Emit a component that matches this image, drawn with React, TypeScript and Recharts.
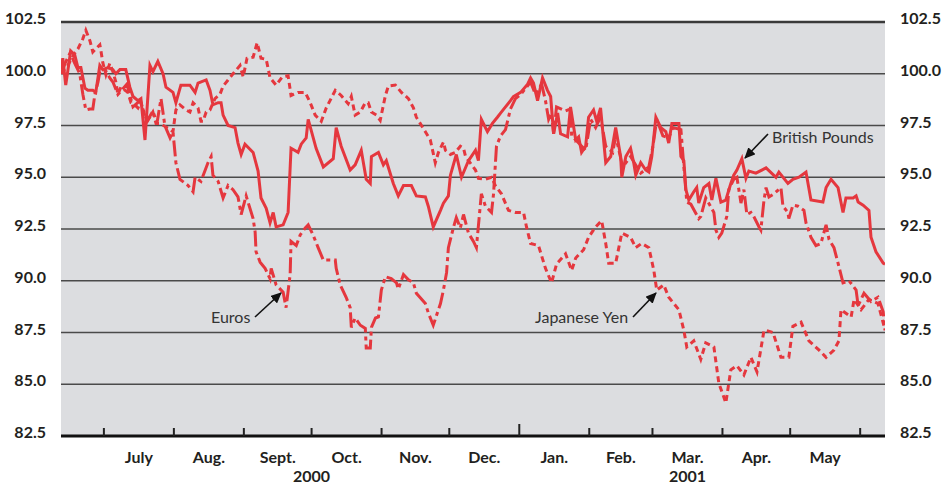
import { LineChart, Line, XAxis, YAxis, CartesianGrid, ReferenceLine } from 'recharts';

// days counted from 12 June 2000; index values (June 2000 = 100)
const monthStarts = [19, 50, 81, 111, 142, 172, 203, 234, 262, 293, 323, 354];
const monthLabels = ['July', 'Aug.', 'Sept.', 'Oct.', 'Nov.', 'Dec.', 'Jan.', 'Feb.', 'Mar.', 'Apr.', 'May', ''];
const yearLabels = [
  { day: 111, label: '2000' },
  { day: 277.5, label: '2001' },
];
const valueTicks = [82.5, 85, 87.5, 90, 92.5, 95, 97.5, 100, 102.5];

const pounds = [
  [0, 100.2], [0.8, 100.75], [2.1, 99.45], [4.3, 101.1], [6.1, 100.9], [7.5, 100.3], [8.8, 100.3],
  [10.6, 99.3], [11.9, 99.2], [14.1, 99.2], [15.4, 99.1], [17.2, 100.4], [18.5, 100.2], [20.8, 100.3],
  [23.0, 100.2], [24.3, 100.0], [26.1, 100.2], [28.7, 100.2], [30.5, 99.35], [31.9, 98.9], [34.1, 98.7],
  [35.4, 98.8], [37.2, 96.8], [39.4, 100.4], [40.7, 100.1], [42.9, 100.6], [45.2, 100.0], [46.5, 99.35],
  [49.6, 99.1], [50.9, 98.6], [53.1, 99.45], [57.1, 99.45], [59.4, 99.1], [60.7, 99.55], [64.3, 99.7],
  [66.0, 99.2], [67.3, 98.5], [69.6, 98.6], [70.9, 98.6], [71.8, 98.0], [74.0, 97.5], [77.1, 97.4],
  [78.4, 96.65], [79.8, 96.1], [81.5, 96.6], [85.1, 96.2], [87.3, 95.3], [88.6, 94.0], [90.9, 93.5],
  [92.6, 92.8], [94.0, 93.3], [95.3, 92.6], [98.4, 92.7], [100.6, 93.3], [101.9, 96.4], [105.0, 96.2],
  [106.4, 96.6], [108.6, 96.9], [109.5, 97.8], [113.0, 96.4], [116.2, 95.5], [120.6, 95.9], [121.9, 97.4],
  [124.1, 96.5], [128.1, 95.35], [130.3, 95.6], [133.0, 96.3], [135.2, 94.9], [137.0, 94.7], [137.5, 96.0],
  [140.6, 96.2], [142.8, 95.6], [144.1, 95.8], [147.2, 94.7], [149.4, 94.1], [151.7, 94.6], [155.2, 94.6],
  [157.4, 94.1], [161.4, 94.05], [162.7, 93.6], [164.9, 92.6], [168.1, 93.4], [169.4, 93.75], [171.6, 94.1],
  [172.5, 95.1], [175.1, 96.1], [177.4, 95.0], [180.5, 95.8], [183.6, 96.3], [184.9, 95.8], [186.2, 97.8],
  [188.9, 97.2], [191.1, 97.6], [193.3, 97.9], [194.7, 98.1], [196.9, 98.4], [199.1, 98.7], [200.4, 98.9],
  [203.6, 99.1], [206.7, 99.5], [208.0, 99.8], [209.3, 99.55], [211.1, 98.7], [213.3, 99.8], [215.5, 99.2],
  [216.9, 98.9], [218.2, 97.1], [220.0, 98.1], [221.3, 97.1], [224.4, 96.95], [225.7, 98.4], [228.0, 96.8],
  [229.3, 96.95], [230.6, 96.2], [232.4, 96.5], [233.7, 97.9], [235.9, 98.25], [237.3, 97.7], [239.0, 98.35],
  [241.3, 95.7], [243.5, 96.0], [245.7, 97.4], [247.9, 96.0], [248.4, 95.0], [250.2, 96.0], [252.3, 96.4],
  [253.7, 95.7], [254.6, 95.1], [256.8, 95.7], [259.0, 95.35], [260.4, 95.25], [261.7, 96.0], [263.5, 97.9],
  [265.7, 97.4], [267.9, 97.2], [269.2, 96.65], [270.6, 97.6], [273.7, 97.6], [274.6, 96.0], [275.9, 95.8],
  [276.8, 94.4], [278.1, 93.9], [280.3, 94.3], [281.6, 94.5], [282.5, 93.75], [284.7, 94.5], [287.0, 94.7],
  [288.3, 93.9], [290.1, 94.95], [292.3, 93.8], [294.5, 93.9], [296.7, 94.7], [298.0, 95.1], [299.4, 95.35],
  [301.6, 95.9], [303.4, 94.95], [304.7, 95.3], [307.8, 95.2], [312.3, 95.45], [316.7, 95.0], [318.0, 95.25],
  [322.0, 94.7], [324.2, 94.9], [326.9, 95.0], [330.0, 95.25], [332.2, 93.9], [337.5, 93.8], [338.9, 94.5],
  [341.1, 94.9], [344.2, 94.5], [346.4, 93.3], [347.7, 94.0], [350.9, 94.0], [352.2, 94.1], [353.1, 93.8],
  [355.3, 93.65], [357.9, 93.4], [358.8, 92.1], [361.0, 91.4], [364.2, 90.85], [365, 90.8],
];

const euros = [
  [0, 100.0], [1.8, 100.5], [4.0, 101.0], [6.1, 100.5], [8.3, 100.0], [9.7, 99.0], [11.0, 98.25],
  [12.8, 98.3], [14.1, 98.3], [15.0, 99.0], [16.4, 99.6], [17.2, 100.1], [19.5, 100.2], [21.6, 99.8],
  [23.0, 99.6], [25.2, 99.0], [29.2, 99.5], [31.9, 98.4], [35.0, 98.7], [38.1, 97.7], [40.7, 98.2],
  [42.5, 97.6], [44.3, 98.8], [46.0, 97.5], [48.3, 96.9], [49.6, 97.2], [50.9, 95.7], [52.7, 94.9],
  [56.3, 94.6], [58.5, 94.3], [59.4, 95.0], [62.0, 94.8], [65.1, 95.7], [66.5, 96.0], [67.3, 95.1],
  [69.6, 94.8], [71.8, 94.0], [74.0, 94.6], [76.2, 94.4], [78.4, 94.05], [79.8, 93.2], [82.0, 94.1],
  [85.1, 93.0], [86.0, 92.35], [86.4, 91.4], [88.2, 90.9], [90.4, 90.6], [92.6, 90.1], [93.1, 90.6],
  [95.3, 89.8], [98.4, 89.45], [99.7, 88.7], [101.5, 90.3], [101.9, 91.9], [104.2, 91.7], [105.9, 92.2],
  [108.2, 92.55], [109.5, 92.7], [111.7, 92.2], [113.9, 91.6], [116.2, 91.0], [121.5, 91.0], [121.9, 90.6],
  [123.7, 89.8], [125.0, 89.5], [126.3, 89.2], [128.1, 88.7], [128.6, 87.75], [130.3, 88.2], [132.6, 87.85],
  [134.8, 87.7], [135.2, 86.75], [137.0, 86.75], [137.5, 87.75], [139.3, 88.2], [140.6, 88.25], [141.9, 89.55],
  [143.7, 90.2], [146.3, 90.1], [148.6, 89.9], [149.4, 89.6], [151.7, 90.3], [153.9, 90.05], [156.1, 89.9],
  [157.4, 89.4], [161.4, 88.9], [162.7, 88.45], [164.9, 87.85], [168.1, 88.9], [169.4, 89.55], [170.8, 90.4],
  [171.6, 91.6], [173.9, 92.6], [175.1, 93.05], [176.9, 92.55], [178.3, 93.2], [180.5, 92.3], [182.7, 91.9],
  [184.0, 91.6], [186.2, 94.2], [188.0, 93.6], [190.7, 93.3], [191.6, 94.2], [192.9, 96.5], [194.7, 97.0],
  [196.9, 97.3], [199.1, 98.3], [201.3, 98.8], [203.6, 99.0], [205.8, 99.3], [208.0, 99.6], [210.2, 99.0],
  [212.9, 99.5], [214.6, 98.7], [216.0, 97.8], [217.3, 98.1], [218.2, 97.1], [219.5, 98.4], [223.5, 98.2],
  [225.7, 98.3], [226.2, 97.0], [228.0, 96.8], [232.4, 96.3], [234.6, 97.8], [236.8, 97.4], [239.0, 97.9],
  [241.3, 96.5], [244.4, 96.2], [245.7, 97.0], [248.8, 95.5], [252.3, 96.0], [256.8, 95.2], [260.4, 95.5],
  [262.2, 96.5], [263.9, 97.8], [266.6, 97.0], [269.2, 96.9], [271.0, 97.4], [274.6, 97.3], [275.9, 95.5],
  [277.2, 93.8], [279.0, 93.7], [282.5, 93.0], [283.4, 93.1], [285.6, 94.0], [289.2, 93.3], [290.1, 92.45],
  [291.4, 92.1], [292.7, 92.3], [294.9, 93.1], [295.8, 94.4], [298.0, 94.9], [299.4, 95.0], [301.2, 93.75],
  [302.5, 94.4], [303.8, 93.2], [305.6, 93.3], [306.9, 93.1], [309.2, 92.6], [310.0, 92.45], [311.4, 93.9],
  [312.3, 94.5], [313.6, 94.05], [315.8, 94.2], [318.9, 94.5], [319.8, 93.6], [322.0, 93.3], [322.4, 93.0],
  [324.2, 93.65], [326.5, 93.6], [329.1, 93.4], [330.0, 92.8], [332.2, 92.1], [334.4, 91.7], [336.6, 91.8],
  [338.9, 92.7], [340.2, 92.0], [342.4, 91.6], [344.2, 90.85], [346.4, 89.9], [349.1, 90.0], [352.2, 89.55],
  [353.1, 88.8], [355.7, 89.4], [358.8, 89.0], [361.9, 89.2], [364.2, 88.5], [365, 87.6],
];

const yen = [
  [0, 100.0], [3.0, 100.4], [6.1, 101.0], [7.5, 101.2], [9.7, 101.7], [11.0, 102.1], [12.8, 101.6],
  [14.1, 101.05], [15.4, 101.2], [17.2, 101.4], [17.7, 101.1], [18.5, 100.55], [19.9, 99.95], [21.6, 100.5],
  [23.0, 100.1], [24.3, 99.6], [25.2, 99.0], [26.5, 99.35], [29.6, 99.1], [31.0, 98.6], [32.7, 98.5],
  [34.1, 98.35], [35.4, 98.65], [37.2, 97.9], [38.5, 97.75], [40.7, 98.15], [42.1, 97.6], [43.8, 97.6],
  [46.9, 97.4], [49.6, 97.2], [50.9, 98.25], [52.7, 98.5], [55.4, 98.25], [57.1, 98.15], [58.5, 98.6],
  [60.7, 98.35], [62.0, 97.7], [62.9, 97.7], [64.3, 98.15], [66.0, 98.25], [68.2, 98.8], [70.4, 99.0],
  [71.8, 99.4], [74.0, 99.7], [76.2, 100.0], [79.3, 100.4], [80.7, 99.85], [82.4, 100.75], [85.1, 100.8],
  [86.9, 101.5], [88.6, 100.75], [90.9, 100.7], [92.6, 99.8], [95.3, 99.45], [98.0, 99.85], [100.6, 99.9],
  [101.9, 98.95], [105.0, 99.1], [108.2, 99.1], [110.4, 98.6], [112.6, 98.0], [115.3, 97.7], [117.5, 98.35],
  [121.5, 99.2], [124.1, 98.95], [127.2, 98.55], [128.6, 98.9], [130.3, 98.0], [132.6, 98.15], [134.8, 98.6],
  [136.1, 98.6], [137.5, 98.15], [139.7, 98.0], [141.4, 97.75], [143.7, 98.95], [145.0, 99.4], [148.1, 99.45],
  [150.8, 99.1], [153.9, 98.8], [156.1, 98.35], [157.4, 97.9], [161.4, 97.2], [163.6, 96.8], [165.8, 95.7],
  [167.2, 96.2], [169.4, 96.7], [170.3, 96.3], [172.5, 96.1], [174.7, 96.2], [176.9, 96.5], [178.3, 96.4],
  [179.2, 96.0], [183.6, 95.35], [184.9, 94.95], [188.0, 94.9], [190.7, 95.0], [192.4, 94.6], [195.1, 94.2],
  [198.2, 93.4], [201.3, 93.3], [204.9, 93.3], [206.2, 92.6], [208.0, 91.8], [211.5, 91.7], [214.6, 90.6],
  [217.3, 89.9], [219.5, 90.8], [223.5, 91.3], [226.2, 90.5], [228.0, 91.1], [231.5, 91.5], [233.7, 92.1],
  [236.8, 92.6], [239.5, 92.9], [241.3, 91.8], [242.6, 90.85], [245.7, 90.85], [248.4, 92.3], [252.3, 92.1],
  [254.6, 91.6], [257.2, 91.8], [260.4, 91.6], [262.6, 90.5], [263.9, 89.55], [267.0, 89.8], [269.2, 89.2],
  [273.7, 88.6], [275.9, 87.6], [277.2, 86.8], [280.3, 87.1], [283.4, 86.2], [285.6, 87.0], [289.2, 86.8],
  [291.4, 85.05], [294.5, 84.1], [296.7, 85.7], [299.4, 85.9], [302.5, 85.45], [305.6, 86.3], [308.3, 85.6],
  [311.4, 87.6], [312.3, 87.6], [315.4, 87.5], [318.9, 86.3], [322.4, 86.3], [324.2, 87.8], [327.8, 88.0],
  [331.3, 87.1], [335.8, 86.65], [338.9, 86.3], [342.4, 86.65], [344.6, 87.1], [345.5, 88.6], [350.0, 88.25],
  [351.3, 89.1], [354.4, 88.6], [357.9, 89.1], [361.9, 88.9], [364.6, 87.8],
];

const W = 946;
const H = 484;
const PLOT_LEFT = 61;
const PLOT_RIGHT = 885;
const DAY_SPAN = 365;
const pxPerDay = (PLOT_RIGHT - PLOT_LEFT) / DAY_SPAN;
const RED = '#e5373e';
const INK = '#231f20';
const FONT = 'Lato, "Open Sans", sans-serif';

const toRows = (pts: number[][]) => pts.map(([d, v]) => ({ d, v }));

function MonthTick(props: any) {
  const { x, y, payload } = props;
  const i = monthStarts.indexOf(payload.value);
  const next = monthStarts[i + 1];
  const label = monthLabels[i];
  const len = label === 'Jan.' ? 12 : 8;
  const years = yearLabels.filter(
    (yl) => yl.day >= payload.value && (next === undefined || yl.day < next)
  );
  return (
    <g>
      <line x1={x} x2={x} y1={y} y2={y - len} stroke="#222" strokeWidth={2} />
      {next !== undefined && label && (
        <text
          x={x + ((next - payload.value) / 2) * pxPerDay}
          y={y + 27}
          textAnchor="middle"
          fill={INK}
          fontSize={16}
          fontWeight={700}
          fontFamily={FONT}
        >
          {label}
        </text>
      )}
      {years.map((yl) => (
        <text
          key={yl.label}
          x={x + (yl.day - payload.value) * pxPerDay}
          y={y + 46}
          textAnchor="middle"
          fill={INK}
          fontSize={16}
          fontWeight={700}
          fontFamily={FONT}
        >
          {yl.label}
        </text>
      ))}
    </g>
  );
}

function ValueTick(props: any) {
  const { x, y, payload, anchor } = props;
  return (
    <text x={x} y={y + 2} textAnchor={anchor} fill={INK} fontSize={16} fontWeight={700} fontFamily={FONT}>
      {Number(payload.value).toFixed(1)}
    </text>
  );
}

export default function App() {
  return (
    <div style={{ position: 'absolute', left: 0, top: 0, width: W, height: H, background: '#fff' }}>
      <LineChart width={W} height={H} margin={{ top: 22, right: 0, bottom: 0, left: 0 }}>
        <CartesianGrid
          horizontal
          vertical={false}
          fill="#dcdde0"
          stroke="#4a4a4a"
          strokeWidth={1.6}
        />
        <ReferenceLine y={102.5} stroke="#3a3a3a" strokeWidth={2.6} />
        <XAxis
          dataKey="d"
          type="number"
          domain={[0, DAY_SPAN]}
          ticks={monthStarts}
          interval={0}
          allowDataOverflow
          tickLine={false}
          tickSize={0}
          tickMargin={0}
          height={48}
          axisLine={{ stroke: '#111', strokeWidth: 3 }}
          tick={(p: any) => <MonthTick {...p} />}
        />
        <YAxis
          domain={[82.5, 102.5]}
          ticks={valueTicks}
          interval={0}
          width={PLOT_LEFT}
          axisLine={false}
          tickLine={false}
          tickSize={0}
          tickMargin={15}
          tick={(p: any) => <ValueTick {...p} anchor="end" />}
        />
        <YAxis
          yAxisId="right"
          orientation="right"
          domain={[82.5, 102.5]}
          ticks={valueTicks}
          interval={0}
          width={W - PLOT_RIGHT}
          axisLine={false}
          tickLine={false}
          tickSize={0}
          tickMargin={15}
          tick={(p: any) => <ValueTick {...p} anchor="start" />}
        />
        <Line
          data={toRows(yen)}
          dataKey="v"
          type="linear"
          stroke={RED}
          strokeWidth={3}
          strokeDasharray="6 4"
          dot={false}
          activeDot={false}
          isAnimationActive={false}
        />
        <Line
          data={toRows(euros)}
          dataKey="v"
          type="linear"
          stroke={RED}
          strokeWidth={3}
          strokeDasharray="16 4 4 4"
          dot={false}
          activeDot={false}
          isAnimationActive={false}
        />
        <Line
          yAxisId="right"
          data={toRows(pounds)}
          dataKey="v"
          type="linear"
          stroke={RED}
          strokeWidth={3}
          dot={false}
          activeDot={false}
          isAnimationActive={false}
        />
      </LineChart>
      <svg
        width={W}
        height={H}
        style={{ position: 'absolute', left: 0, top: 0, pointerEvents: 'none' }}
      >
        <defs>
          <marker id="arrowHead" markerWidth="12" markerHeight="10" refX="10" refY="5" orient="auto" markerUnits="userSpaceOnUse">
            <path d="M0,0 L11,5 L0,10 Z" fill="#111" />
          </marker>
        </defs>
        <g fontFamily={FONT} fontSize={16} fill="#333">
          <text x={211} y={323}>Euros</text>
          <text x={535} y={323}>Japanese Yen</text>
          <text x={772} y={143}>British Pounds</text>
        </g>
        <line x1={255} y1={317} x2={281} y2={293} stroke="#111" strokeWidth={1.6} markerEnd="url(#arrowHead)" />
        <line x1={633} y1={317} x2={656} y2={293} stroke="#111" strokeWidth={1.6} markerEnd="url(#arrowHead)" />
        <line x1={768} y1={134} x2={745} y2={158} stroke="#111" strokeWidth={1.6} markerEnd="url(#arrowHead)" />
      </svg>
    </div>
  );
}
